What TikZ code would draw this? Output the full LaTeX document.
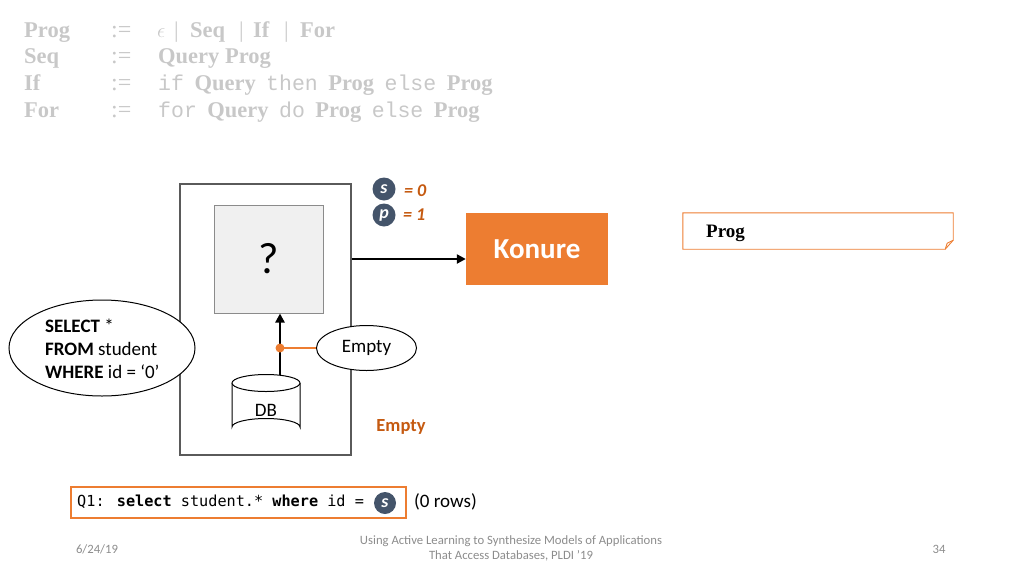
\documentclass[tikz,border=0pt]{standalone}
\usepackage{fontspec}
\setmainfont{Carlito}
\newfontfamily\tms{Liberation Serif}
\newfontfamily\crr{Liberation Mono}
\newfontfamily\cns{DejaVu Sans Mono}
\usetikzlibrary{arrows.meta,calc,shapes.geometric}
\definecolor{gram}{HTML}{C8C8C8}
\definecolor{korange}{HTML}{ED7D31}
\definecolor{dorange}{HTML}{C55A11}
\definecolor{slate}{HTML}{44546A}
\definecolor{frame}{HTML}{5A5A5A}
\definecolor{foot}{HTML}{8C8C8C}
\tikzset{
  gtext/.style={anchor=base west, inner sep=0, text=gram, font=\tms\bfseries\fontsize{22.5}{26}\selectfont},
  varc/.style={circle, fill=slate, minimum size=23, inner sep=0, text=white, font=\bfseries\itshape\fontsize{18}{20}\selectfont},
  vval/.style={anchor=west, inner sep=0, text=dorange, font=\bfseries\itshape\fontsize{18}{20}\selectfont},
  body/.style={font=\fontsize{19}{23}\selectfont},
  thickarrow/.style={line width=2.6, -{Triangle[length=9,width=9]}},
  footer/.style={text=foot, font=\fontsize{12.7}{15}\selectfont, align=center},
}
\newcommand{\mt}[1]{{\crr\mdseries\fontsize{21.5}{26}\selectfont #1}}
\newcommand{\gp}{\hspace{10.5pt}}
\newcommand{\tok}[2]{\makebox[#1pt][l]{#2}}
\begin{document}
\begin{tikzpicture}[x=1pt,y=-1pt]
\useasboundingbox (0,0) rectangle (1024,576);
% grammar
\node[gtext] (g1l) at (24,37) {Prog};
\node[gtext] (g1o) at (111,37) {\mdseries\fontsize{24}{26}\selectfont:=};
\node[gtext] (g1r) at (157,37) {\tok{17}{\mdseries$\epsilon$}\tok{16}{\mdseries|}\tok{49}{Seq}\tok{14}{\mdseries|}\tok{31}{If}\tok{16}{\mdseries|}For};
\node[gtext] (g2l) at (24,63) {Seq};
\node[gtext] (g2o) at (111,63) {\mdseries\fontsize{24}{26}\selectfont:=};
\node[gtext] (g2r) at (158,63) {Query Prog};
\node[gtext] (g3l) at (24,90) {If};
\node[gtext] (g3o) at (111,90) {\mdseries\fontsize{24}{26}\selectfont:=};
\node[gtext] (g3r) at (158,90) {\mt{if}\gp Query\gp\mt{then}\gp Prog\gp\mt{else}\gp Prog};
\node[gtext] (g4l) at (24,117) {For};
\node[gtext] (g4o) at (111,117) {\mdseries\fontsize{24}{26}\selectfont:=};
\node[gtext] (g4r) at (158,117) {\mt{for}\gp Query\gp\mt{do}\gp Prog\gp\mt{else}\gp Prog};

% outer frame
\node[draw=frame, line width=1.3, minimum width=171, minimum height=271, inner sep=0] (outer) at (265.5,319.5) {};
% inner box
\node[draw=frame!70, fill=black!6, line width=1, minimum width=109, minimum height=108, inner sep=0, font=\fontsize{44}{48}\selectfont] (inner) at (268.5,259) {?};
% Konure
\node[fill=korange, minimum width=142, minimum height=72, inner sep=0, text=white, font=\bfseries\fontsize{29}{32}\selectfont] (konure) at (537,249) {Konure};
\coordinate (ay) at (0,259);
\draw[thickarrow] (outer.east |- ay) -- (konure.west |- ay);

% s and p
\node[varc] (sv) at (384,189) {s};
\node[vval] (sval) at (404,191) {= 0};
\node[varc] (pv) at (384,215) {p};
\node[vval] (pval) at (403,215) {= 1};

% DB cylinder
\draw[black, line width=1, fill=white] (232,383) -- (232,427) arc[start angle=180, end angle=360, x radius=34, y radius=8.5] -- (300,383);
\draw[black, line width=1, fill=white] (266,383) ellipse[x radius=34, y radius=8.5];
\node[body, inner sep=0] (db) at (266,410) {DB};
\coordinate (dbtop) at (280,374.5);
\draw[thickarrow] (dbtop) -- (inner.south -| dbtop);

% Empty ellipse on the arrow
\node[draw, ellipse, line width=1, fill=white, minimum width=100, minimum height=45, inner sep=0, body] (emp) at (366.5,348) {Empty};
\coordinate (tap) at (280,348);
\draw[korange, line width=2.2] (tap) -- (emp.west);
\fill[korange] (tap) circle (4.5);

% SQL ellipse
\node[draw, ellipse, line width=1, fill=white, minimum width=186, minimum height=96, inner sep=0] (sql) at (102,348) {};
\node[anchor=west, align=left, inner sep=0, font=\fontsize{19}{23}\selectfont] (sqlt) at (45,349) {\textbf{SELECT} *\\\textbf{FROM} student\\\textbf{WHERE} id = ‘0’};

% orange Empty
\node[text=dorange, font=\bfseries\fontsize{18.5}{20}\selectfont, inner sep=0] (oempty) at (401,427) {Empty};

% Prog box with folded corner
\node[minimum width=270, minimum height=36, inner sep=0] (progbox) at (818,231) {};
\draw[korange, line width=0.9] (progbox.north west) -- (progbox.north east) -- ($(progbox.south east)+(0,-9)$) -- ($(progbox.south east)+(-8,0)$) -- (progbox.south west) -- cycle;
\draw[korange, line width=0.9] ($(progbox.south east)+(0,-9)$) -- ($(progbox.south east)+(-6,-6)$) -- ($(progbox.south east)+(-8,0)$);
\node[anchor=west, inner sep=0, font=\tms\bfseries\fontsize{19}{22}\selectfont] (progt) at (706,233) {Prog};

% Q1 box
\node[draw=korange, line width=1.1, minimum width=335, minimum height=31, inner sep=0] (q1box) at (238.5,502.5) {};
\node[anchor=west, inner sep=0, font=\cns\fontsize{15.2}{17}\selectfont] (q1t) at (77,502) {Q1: \textbf{select} student.* \textbf{where} id =};
\node[varc, minimum size=22] (sq) at (385,503) {s};
\node[anchor=west, inner sep=0, font=\fontsize{19}{21}\selectfont] (rows) at (414,502) {(0 rows)};

% footer
\node[footer] (fd) at (97,549) {6/24/19};
\node[footer] (ft) at (511,548.5) {Using Active Learning to Synthesize Models of Applications\\That Access Databases, PLDI '19};
\node[footer] (fn) at (939,549) {34};
\end{tikzpicture}
\end{document}
